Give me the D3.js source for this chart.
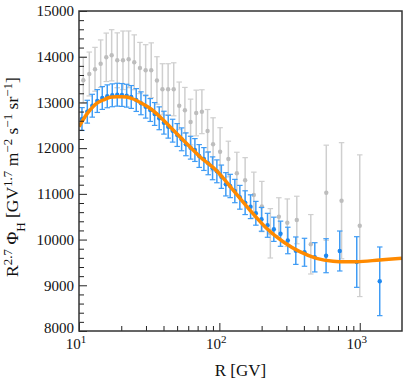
<!DOCTYPE html>
<html>
<head>
<meta charset="utf-8">
<script src="https://cdn.jsdelivr.net/npm/d3@7"></script>
<style>
  body { margin: 0; background: #fff; }
  text { font-family: "Liberation Serif", "DejaVu Serif", serif; fill: #111; }
</style>
</head>
<body>
<script>
'use strict';

// blue data set (rigidity in GV, R^2.7 flux, error)
const blueR = [10.50, 11.46, 12.43, 13.50, 14.65, 15.90, 17.26, 18.73, 20.23, 21.85,
  23.56, 25.57, 27.63, 29.84, 32.17, 34.58, 37.28, 40.27, 43.21, 46.45,
  50.07, 53.83, 57.75, 62.37, 66.93, 71.82, 77.57, 83.24, 89.44, 95.98,
  103.3, 111.2, 119.4, 128.9, 139.9, 152.6, 166.8, 181.9, 199.7, 220.3,
  244.3, 272.7, 307.3, 350.4, 404.1, 478.3, 575.6, 720.3, 952, 1388];
const blueV = [12637, 12797, 12928, 13031, 13097, 13134, 13156, 13169, 13163, 13147,
  13119, 13053, 12981, 12907, 12834, 12747, 12653, 12557, 12469, 12382,
  12287, 12193, 12084, 12010, 11959, 11828, 11762, 11668, 11559, 11493,
  11375, 11209, 11172, 11062, 10925, 10807, 10719, 10575, 10443, 10312,
  10225, 10128, 9980, 9757, 9722, 9612, 9647, 9750, 9509, 9087];
const blueErr = [250, 250, 250, 250, 250, 250, 250, 250, 250, 250,
  250, 250, 250, 250, 250, 250, 250, 250, 250, 250,
  250, 250, 250, 250, 250, 250, 250, 250, 250, 250,
  255, 255, 255, 255, 260, 260, 260, 260, 260, 262,
  265, 275, 290, 300, 306, 320, 372, 437, 554, 751];

// gray data set
const grayR = [10.73, 11.84, 13.00, 14.27, 15.64, 17.09, 18.73, 20.57, 22.58, 24.75,
  27.18, 29.84, 32.70, 35.91, 39.29, 43.14, 47.29, 51.74, 56.80, 62.37,
  68.39, 75.07, 82.41, 90.19, 101.2, 115.9, 133.2, 152.6, 176.0, 200.7,
  230.7, 265.2, 304.8, 356.1, 448.0, 577.6, 742.1, 1000];
const grayV = [13484, 13622, 13725, 13847, 13987, 14031, 13922, 13922, 13943, 13878,
  13753, 13703, 13703, 13480, 13287, 13287, 13287, 12926, 12828, 12572,
  12769, 12797, 12375, 12084, 11922, 11762, 11450, 11297, 10975, 10723,
  10137, 10500, 10369, 10428, 9897, 11025, 10850, 10303];
const grayErr = [500, 480, 480, 520, 530, 560, 600, 640, 620, 600,
  560, 560, 600, 520, 560, 560, 580, 520, 500, 500,
  500, 480, 470, 580, 525, 390, 460, 495, 500, 550,
  540, 415, 520, 520, 650, 1040, 1270, 1550];

// orange model curve
const fitR = [10, 11.03, 11.98, 13.36, 14.89, 16.62, 19.04, 21.85, 24.35, 27.95,
  32.01, 37.72, 44.43, 52.34, 61.66, 72.64, 95.5, 125.4, 164.8, 216.7,
  284.6, 374.1, 491.8, 645.7, 947.3, 1388, 2000];
const fitV = [12469, 12688, 12834, 12981, 13053, 13112, 13125, 13119, 13075, 12981,
  12872, 12688, 12469, 12250, 12032, 11813, 11507, 11084, 10647, 10247,
  9953, 9735, 9590, 9525, 9516, 9553, 9590];

// axis ticks
const xMajor = [10, 100, 1000];
const xMinor = [20, 30, 40, 50, 60, 70, 80, 90, 200, 300, 400, 500, 600, 700, 800, 900];
const yMajor = [8000, 9000, 10000, 11000, 12000, 13000, 14000, 15000];

(function () {
  const W = 407, H = 384;
  const plot = { left: 79, top: 11, right: 402, bottom: 331 };

  let svg = d3.select('body').append('svg')
    .attr('width', W)
    .attr('height', H);

  let xScale = d3.scaleLog()
    .domain([10, 2000])
    .range([plot.left, plot.right]);

  let yScale = d3.scaleLinear()
    .domain([8000, 15000])
    .range([plot.bottom, plot.top]);

  // clip everything to the axes box
  svg.append('clipPath').attr('id', 'clip')
    .append('rect')
    .attr('x', plot.left).attr('y', plot.top)
    .attr('width', plot.right - plot.left)
    .attr('height', plot.bottom - plot.top);

  let g = svg.append('g').attr('clip-path', 'url(#clip)');

  // draw one data set as points with vertical error bars
  function drawErrorPoints(rs, vs, es, color, barColor, capW) {
    let pts = rs.map((r, i) => ({ r: r, v: vs[i], e: es[i] }));
    let grp = g.append('g');
    grp.selectAll('line.bar').data(pts).enter().append('line')
      .attr('x1', d => xScale(d.r)).attr('x2', d => xScale(d.r))
      .attr('y1', d => yScale(d.v - d.e)).attr('y2', d => yScale(d.v + d.e))
      .attr('stroke', barColor).attr('stroke-width', 1.5);
    [-1, 1].forEach(s => {
      grp.selectAll(null).data(pts).enter().append('line')
        .attr('x1', d => xScale(d.r) - capW / 2).attr('x2', d => xScale(d.r) + capW / 2)
        .attr('y1', d => yScale(d.v + s * d.e)).attr('y2', d => yScale(d.v + s * d.e))
        .attr('stroke', barColor).attr('stroke-width', 1.2);
    });
    grp.selectAll('circle').data(pts).enter().append('circle')
      .attr('cx', d => xScale(d.r)).attr('cy', d => yScale(d.v))
      .attr('r', 2.2)
      .attr('fill', color);
  }

  drawErrorPoints(grayR, grayV, grayErr, '#bdbdbd', '#cfcfcf', 5.5);
  drawErrorPoints(blueR, blueV, blueErr, '#1e88f0', '#3f9cf5', 5.5);

  // model line on top
  let line = d3.line()
    .x(d => xScale(d[0]))
    .y(d => yScale(d[1]))
    .curve(d3.curveCatmullRom);

  g.append('path')
    .datum(fitR.map((r, i) => [r, fitV[i]]))
    .attr('fill', 'none')
    .attr('stroke', '#ff8a00')
    .attr('stroke-width', 3.5)
    .attr('d', line);

  // y axis with inward ticks
  let yAxis = d3.axisLeft(yScale).tickValues(yMajor).tickSize(-8).tickPadding(5)
    .tickFormat(d3.format('d'));
  let ya = svg.append('g').attr('transform', 'translate(' + plot.left + ',0)').call(yAxis);
  let yMinorVals = d3.range(8200, 15000, 200).filter(v => v % 1000 !== 0);
  svg.append('g').attr('transform', 'translate(' + plot.left + ',0)')
    .call(d3.axisLeft(yScale).tickValues(yMinorVals).tickSize(-5).tickFormat(''));

  // x axis with inward ticks
  let xAxis = d3.axisBottom(xScale).tickValues(xMajor).tickSize(-8).tickFormat('');
  svg.append('g').attr('transform', 'translate(0,' + plot.bottom + ')').call(xAxis);
  svg.append('g').attr('transform', 'translate(0,' + plot.bottom + ')')
    .call(d3.axisBottom(xScale).tickValues(xMinor).tickSize(-5).tickFormat(''));

  svg.selectAll('.domain').remove();
  svg.selectAll('.tick line').attr('stroke', '#222').attr('stroke-width', 1);
  ya.selectAll('text').style('font-size', '15px').style('font-family', '"Liberation Serif", serif').attr('fill', '#111');
  // lift the lowest label a little so it clears the x labels
  ya.selectAll('text').filter(d => d === 8000).attr('dy', '0.1em');

  // x tick labels as powers of ten
  xMajor.forEach(v => {
    let t = svg.append('text')
      .attr('x', xScale(v) - 3)
      .attr('y', 349)
      .attr('text-anchor', 'middle')
      .style('font-size', '15px');
    t.append('tspan').text('10');
    t.append('tspan').attr('dy', -6).style('font-size', '11px').text(Math.log10(v));
  });

  // frame
  svg.append('rect')
    .attr('x', plot.left).attr('y', plot.top)
    .attr('width', plot.right - plot.left)
    .attr('height', plot.bottom - plot.top)
    .attr('fill', 'none')
    .attr('stroke', '#333')
    .attr('stroke-width', 1.5);

  // axis labels
  svg.append('text')
    .attr('x', (plot.left + plot.right) / 2)
    .attr('y', 376)
    .attr('text-anchor', 'middle')
    .style('font-size', '17px')
    .text('R [GV]');

  let yl = svg.append('text')
    .attr('transform', 'translate(18,' + 177 + ')rotate(-90)')
    .attr('text-anchor', 'middle')
    .style('font-size', '17px');
  let parts = [['R', 0], ['2.7', 1], [' Φ', 0], ['H', -1], [' [GV', 0], ['1.7', 1],
    [' m', 0], ['−2', 1], [' s', 0], ['−1', 1], [' sr', 0], ['−1', 1], [']', 0]];
  let level = 0;
  parts.forEach(p => {
    let dy = 0;
    if (p[1] !== level) {
      dy = (level - p[1]) * 6.5;
      level = p[1];
    }
    yl.append('tspan')
      .attr('dy', dy)
      .style('font-size', p[1] === 0 ? '17.5px' : '13px')
      .text(p[0]);
  });
})();
</script>
</body>
</html>
